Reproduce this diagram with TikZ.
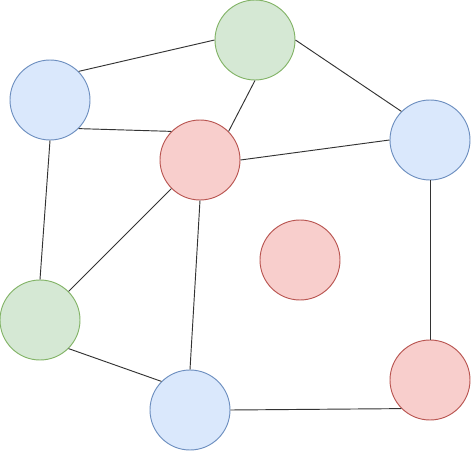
\documentclass[tikz,border=0pt]{standalone}
\definecolor{bluefill}{HTML}{DAE8FC}
\definecolor{blueline}{HTML}{6C8EBF}
\definecolor{greenfill}{HTML}{D5E8D4}
\definecolor{greenline}{HTML}{82B366}
\definecolor{redfill}{HTML}{F8CECC}
\definecolor{redline}{HTML}{B85450}
\begin{document}
\begin{tikzpicture}[x=0.03cm, y=-0.03cm,
  vertex/.style={circle, minimum size=2.4cm, inner sep=0pt, line width=0.8pt},
  bluenode/.style={vertex, draw=blueline, fill=bluefill},
  greennode/.style={vertex, draw=greenline, fill=greenfill},
  rednode/.style={vertex, draw=redline, fill=redfill},
  edge/.style={draw=black!80, line width=0.8pt}]
  \useasboundingbox (0,0) rectangle (471,451);
  \node[greennode] (gtop)   at (255,40)  {};
  \node[bluenode]  (bleft)  at (50,100)  {};
  \node[rednode]   (rmid)   at (200,160) {};
  \node[bluenode]  (bright) at (430,140) {};
  \node[rednode]   (rfree)  at (300,260) {};
  \node[greennode] (gleft)  at (40,320)  {};
  \node[bluenode]  (bbot)   at (190,410) {};
  \node[rednode]   (rbot)   at (430,380) {};
  \draw[edge] (bleft.45)   -- (gtop.west);
  \draw[edge] (gtop.east)  -- (bright.135);
  \draw[edge] (gtop.south) -- (rmid.45);
  \draw[edge] (bleft.-45)  -- (rmid.135);
  \draw[edge] (rmid.east)  -- (bright.west);
  \draw[edge] (bleft.south) -- (gleft.north);
  \draw[edge] (rmid.-135)  -- (gleft.45);
  \draw[edge] (rmid.south) -- (bbot.north);
  \draw[edge] (gleft.-45)  -- (bbot.135);
  \draw[edge] (bbot.east)  -- (rbot.-135);
  \draw[edge] (bright.south) -- (rbot.north);
\end{tikzpicture}
\end{document}
